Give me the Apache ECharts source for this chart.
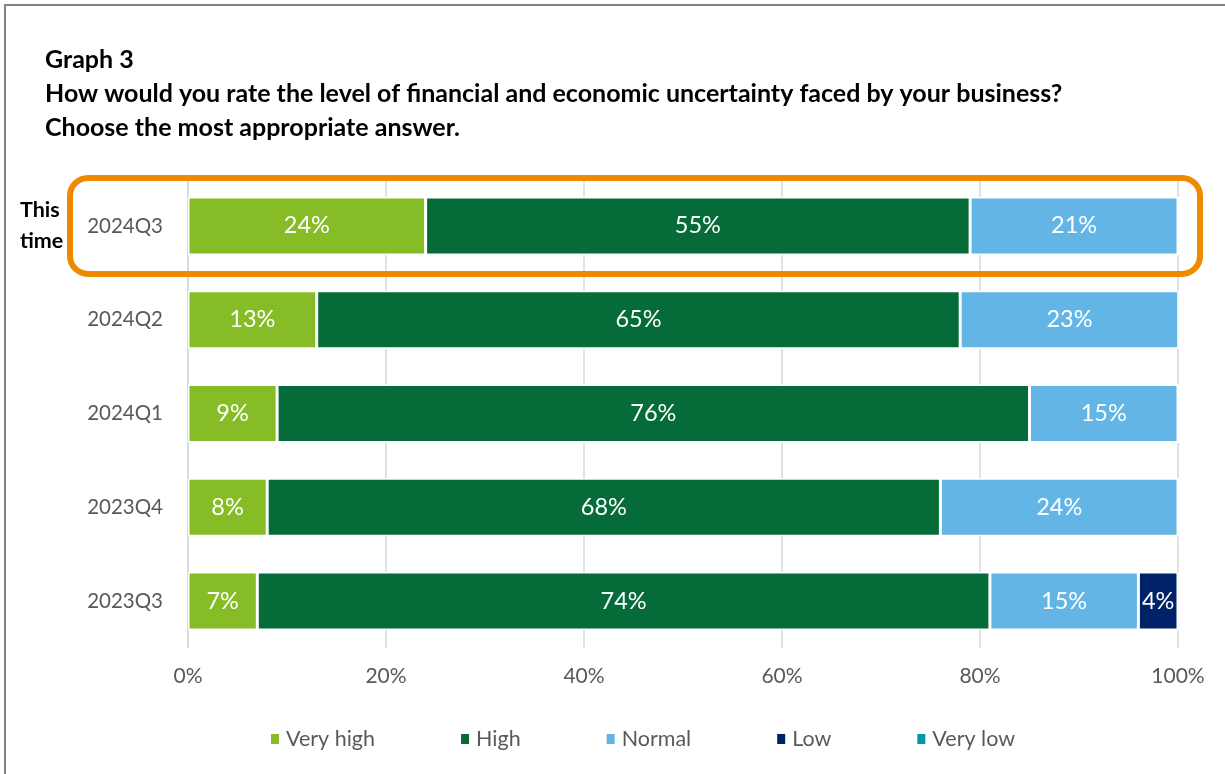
<!DOCTYPE html>
<html>
<head>
<meta charset="utf-8">
<title>Graph 3</title>
<script src="https://cdn.jsdelivr.net/npm/echarts@6/dist/echarts.min.js"></script>
<style>
  html, body { margin: 0; padding: 0; background: #fff; }
  #chart { width: 1225px; height: 774px; }
</style>
</head>
<body>
<div id="chart"></div>
<script>
// Survey periods, most recent first
const periods = ['2024Q3', '2024Q2', '2024Q1', '2023Q4', '2023Q3'];

// Share of answers per period (%)
const veryHigh = [24, 13, 9, 8, 7];
const high     = [55, 65, 76, 68, 74];
const normal   = [21, 23, 15, 24, 15];
const low      = [0, 0, 0, 0, 4];
const veryLow  = [0, 0, 0, 0, 0];

const xTicks = [0, 20, 40, 60, 80, 100];

const FONT = 'Lato, "Open Sans", sans-serif';
const colors = {
  veryHigh: '#86BC25',
  high: '#056B39',
  normal: '#62B5E5',
  low: '#012169',
  veryLow: '#0097A9'
};

function barSeries(name, data, color) {
  return {
    name: name,
    type: 'bar',
    stack: 'total',
    data: data,
    barWidth: 58,
    itemStyle: { color: color, borderColor: '#ffffff', borderWidth: 1.5 },
    label: {
      show: true,
      position: 'inside',
      color: '#ffffff',
      fontFamily: FONT,
      fontSize: 23.5,
      formatter: p => (p.value > 0 ? p.value + '%' : '')
    },
    emphasis: { disabled: true }
  };
}

const chart = echarts.init(document.getElementById('chart'), null, { renderer: 'canvas' });

const option = {
  animation: false,
  backgroundColor: '#ffffff',
  title: {
    text: 'Graph 3\nHow would you rate the level of financial and economic uncertainty faced by your business?\nChoose the most appropriate answer.',
    left: 45,
    top: 43,
    padding: 0,
    textStyle: {
      fontFamily: FONT,
      fontSize: 25,
      fontWeight: 'bold',
      color: '#000000',
      lineHeight: 34
    }
  },
  legend: {
    left: 264,
    top: 723,
    itemWidth: 10,
    itemHeight: 12,
    itemGap: 84,
    icon: 'rect',
    textStyle: { fontFamily: FONT, fontSize: 21.5, color: '#595959', padding: [0, 0, 0, 1] },
    data: ['Very high', 'High', 'Normal', 'Low', 'Very low']
  },
  grid: { left: 188, right: 47, top: 179, bottom: 126, containLabel: false },
  xAxis: {
    type: 'value',
    min: 0,
    max: 100,
    interval: 20,
    axisLine: { show: false },
    axisTick: { show: false },
    splitLine: { show: true, lineStyle: { color: '#D9D9D9', width: 1.5 } },
    axisLabel: {
      margin: 18,
      fontFamily: FONT,
      fontSize: 21,
      color: '#595959',
      formatter: v => (xTicks.includes(v) ? v + '%' : '')
    }
  },
  yAxis: {
    type: 'category',
    inverse: true,
    data: periods,
    axisLine: { show: true, lineStyle: { color: '#D9D9D9', width: 1.5 } },
    axisTick: { show: false },
    axisLabel: { margin: 25, fontFamily: FONT, fontSize: 20.5, color: '#595959' }
  },
  series: [
    barSeries('Very high', veryHigh, colors.veryHigh),
    barSeries('High', high, colors.high),
    barSeries('Normal', normal, colors.normal),
    barSeries('Low', low, colors.low),
    barSeries('Very low', veryLow, colors.veryLow)
  ]
};

chart.setOption(option);

// Highlight frame and caption around the latest period
const latestY = chart.convertToPixel({ yAxisIndex: 0 }, periods[0]);
const fullX = chart.convertToPixel({ xAxisIndex: 0 }, 100);

chart.setOption({
  graphic: [
    {
      type: 'rect',
      silent: true,
      shape: { x: 5, y: 5, width: 1260, height: 800 },
      style: { fill: 'none', stroke: '#808080', lineWidth: 2 },
      z: 0
    },
    {
      type: 'rect',
      silent: true,
      shape: { x: 70, y: latestY - 48, width: fullX + 22 - 70, height: 96, r: 18 },
      style: { fill: 'none', stroke: '#EE8A00', lineWidth: 6 },
      z: 10
    },
    {
      type: 'text',
      silent: true,
      left: 20,
      top: latestY - 31,
      style: {
        text: 'This\ntime',
        fontFamily: FONT,
        fontSize: 21.5,
        fontWeight: 'bold',
        fill: '#000000',
        lineHeight: 31
      },
      z: 10
    }
  ]
});
</script>
</body>
</html>
